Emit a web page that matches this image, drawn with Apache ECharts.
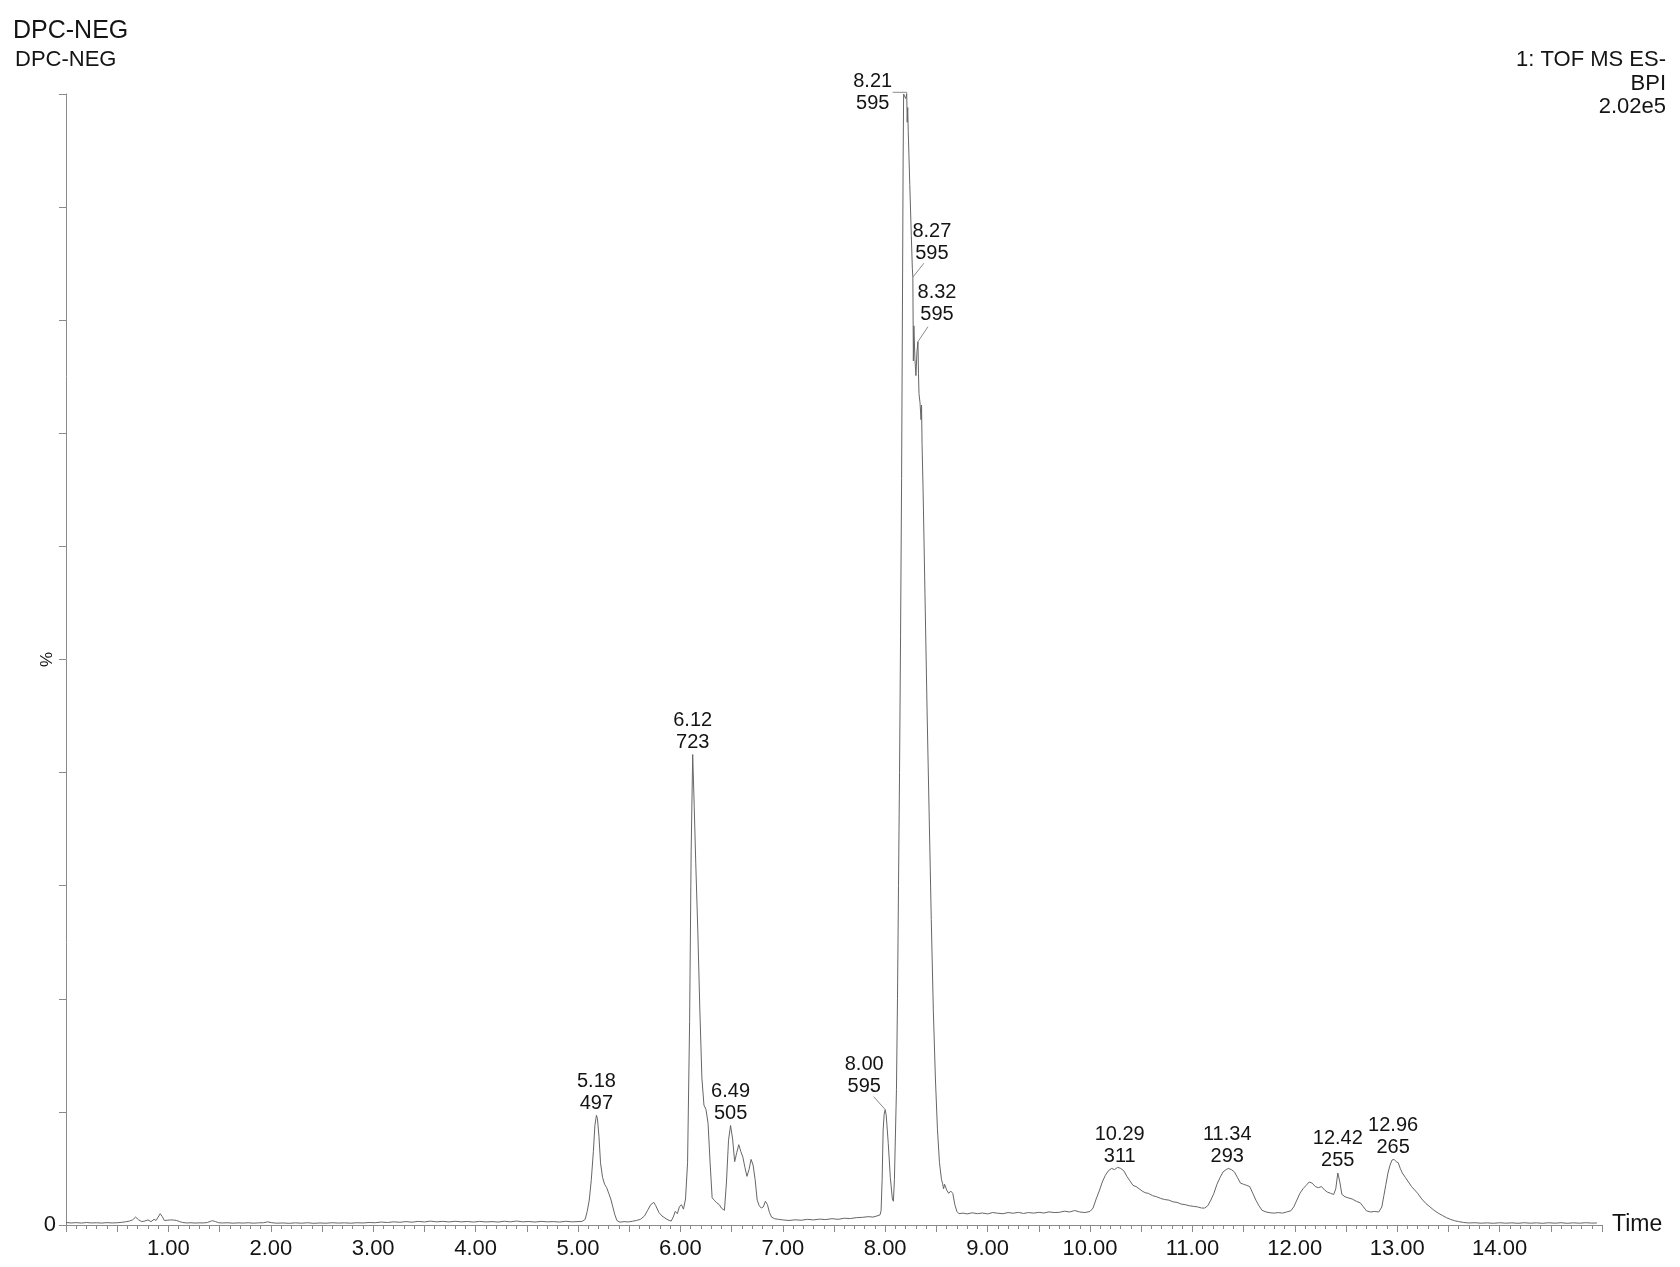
<!DOCTYPE html>
<html><head><meta charset="utf-8">
<script src="https://cdn.jsdelivr.net/npm/echarts@6/dist/echarts.min.js"></script>
<style>html,body{margin:0;padding:0;background:#fff}#chart{width:1680px;height:1267px}</style>
</head><body><div id="chart"></div>
<script>
// ---- data: base peak intensity trace, [retention time (min), relative intensity (%)]
const bpiTrace = [
[0.00,0.22],[0.05,0.18],[0.10,0.21],[0.15,0.17],[0.20,0.22],[0.25,0.18],[0.30,0.2],[0.35,0.17],[0.40,0.21],[0.45,0.18],[0.50,0.2],[0.54,0.23],[0.58,0.28],[0.62,0.35],[0.65,0.45],[0.68,0.7],[0.71,0.45],[0.74,0.3],[0.77,0.35],[0.80,0.45],[0.83,0.3],[0.86,0.5],[0.88,0.4],[0.90,0.7],[0.92,1.0],[0.94,0.75],[0.96,0.4],[0.99,0.42],[1.02,0.45],[1.05,0.44],[1.08,0.4],[1.11,0.3],[1.14,0.22],[1.18,0.18],[1.22,0.2],[1.26,0.17],[1.30,0.19],[1.34,0.18],[1.38,0.22],[1.41,0.32],[1.43,0.38],[1.46,0.3],[1.49,0.2],[1.53,0.18],[1.58,0.2],[1.63,0.16],[1.68,0.19],[1.73,0.17],[1.78,0.2],[1.83,0.16],[1.88,0.19],[1.93,0.2],[1.97,0.28],[2.01,0.2],[2.06,0.16],[2.12,0.18],[2.18,0.15],[2.24,0.19],[2.30,0.16],[2.36,0.2],[2.42,0.15],[2.48,0.18],[2.54,0.16],[2.60,0.2],[2.66,0.17],[2.72,0.19],[2.78,0.16],[2.84,0.2],[2.90,0.18],[2.96,0.22],[3.02,0.2],[3.08,0.26],[3.14,0.22],[3.20,0.28],[3.26,0.24],[3.32,0.3],[3.38,0.25],[3.44,0.32],[3.50,0.27],[3.56,0.34],[3.62,0.28],[3.68,0.32],[3.74,0.27],[3.80,0.33],[3.86,0.28],[3.92,0.31],[3.98,0.26],[4.04,0.32],[4.10,0.27],[4.16,0.3],[4.22,0.26],[4.28,0.33],[4.34,0.28],[4.40,0.35],[4.46,0.28],[4.52,0.31],[4.58,0.26],[4.64,0.32],[4.70,0.28],[4.76,0.3],[4.82,0.26],[4.88,0.33],[4.94,0.28],[5.00,0.3],[5.04,0.32],
[5.07,0.5],[5.09,1.2],[5.11,2.2],[5.13,4.0],[5.15,6.5],[5.165,8.8],[5.18,9.7],[5.19,9.4],[5.205,7.8],[5.22,5.5],[5.24,4.2],[5.26,3.6],[5.28,3.3],[5.30,2.8],[5.32,2.3],[5.34,1.6],[5.36,0.9],[5.38,0.4],[5.41,0.25],[5.45,0.3],[5.49,0.27],[5.53,0.33],[5.57,0.4],[5.61,0.5],[5.65,0.8],[5.68,1.3],[5.71,1.8],[5.74,2.0],[5.76,1.7],[5.79,1.1],[5.82,0.8],[5.86,0.55],[5.89,0.4],[5.91,0.35],[5.93,0.7],[5.95,1.2],[5.97,1.0],[5.99,1.6],[6.01,1.8],[6.03,1.4],[6.05,2.3],[6.07,5.5],[6.09,18],[6.105,33],[6.12,41.6],[6.135,37],[6.15,32],[6.17,26],[6.19,19],[6.21,13],[6.23,10.6],[6.25,10.2],[6.27,9.0],[6.29,5.5],[6.31,2.4],[6.33,2.2],[6.35,2.0],[6.38,1.8],[6.40,1.5],[6.43,1.3],[6.45,3.8],[6.47,7.5],[6.49,8.8],[6.51,7.6],[6.53,5.6],[6.55,6.4],[6.57,7.1],[6.59,6.5],[6.61,6.0],[6.63,5.1],[6.65,4.3],[6.67,4.9],[6.69,5.8],[6.71,5.3],[6.73,4.0],[6.75,2.2],[6.77,1.7],[6.79,1.5],[6.81,1.6],[6.83,2.1],[6.85,1.8],[6.87,1.1],[6.89,0.7],[6.92,0.55],[6.96,0.5],[7.00,0.45],[7.06,0.4],[7.12,0.46],[7.18,0.42],[7.24,0.5],[7.30,0.45],[7.36,0.52],[7.42,0.48],[7.48,0.56],[7.54,0.5],[7.60,0.6],[7.66,0.57],[7.72,0.65],[7.78,0.68],[7.84,0.74],[7.88,0.7],[7.92,0.8],[7.95,0.9],
[7.96,1.3],[7.97,4.0],[7.98,8.4],[7.99,9.8],[8.00,10.2],[8.01,9.7],[8.03,7.2],[8.05,4.2],[8.07,2.3],[8.08,2.1],[8.09,4],[8.11,12],[8.12,20],[8.13,30],[8.14,40],[8.15,52],[8.16,66],[8.17,84],[8.175,94],[8.18,100],[8.19,100],[8.20,99.6],[8.21,100],[8.215,97.5],[8.22,98.8],[8.225,96.7],[8.24,92],[8.255,87.5],[8.265,84.6],[8.27,83.8],[8.275,76.4],[8.28,79.5],[8.29,76.6],[8.30,75.1],[8.31,77.2],[8.32,78.1],[8.325,75.3],[8.33,73.5],[8.34,72.7],[8.35,71.2],[8.355,72.5],[8.36,69],[8.37,65],[8.39,55],[8.41,45],[8.43,36],[8.45,27],[8.47,19],[8.49,13],[8.51,8.5],[8.53,5.5],[8.55,4.0],[8.56,3.7],[8.57,3.2],[8.58,3.6],[8.60,3.1],[8.62,2.8],[8.64,3.0],[8.66,2.8],[8.68,1.8],[8.70,1.2],[8.72,1.0],
[8.76,1.05],[8.80,0.98],[8.85,1.08],[8.90,1.0],[8.95,1.06],[9.00,0.98],[9.05,1.1],[9.10,1.04],[9.15,1.0],[9.20,1.1],[9.25,1.04],[9.30,1.12],[9.35,1.02],[9.40,1.1],[9.45,1.05],[9.50,1.12],[9.55,1.06],[9.60,1.16],[9.65,1.1],[9.70,1.12],[9.75,1.22],[9.80,1.15],[9.85,1.28],[9.90,1.15],[9.95,1.1],[10.00,1.2],
[10.03,1.5],[10.06,2.3],[10.09,3.0],[10.12,3.8],[10.15,4.4],[10.18,4.8],[10.21,5.0],[10.24,4.9],[10.27,5.1],[10.30,5.0],[10.33,4.8],[10.36,4.3],[10.39,3.9],[10.42,3.5],[10.45,3.4],[10.48,3.2],[10.51,3.0],[10.54,2.85],[10.57,2.8],[10.61,2.6],[10.65,2.5],[10.69,2.35],[10.73,2.25],[10.77,2.2],[10.81,2.05],[10.85,2.0],[10.89,1.85],[10.93,1.8],[10.97,1.7],[11.01,1.65],[11.05,1.6],[11.09,1.5],[11.12,1.5],[11.15,1.7],[11.18,2.2],[11.21,2.8],[11.24,3.6],[11.27,4.2],[11.30,4.7],[11.33,4.9],[11.35,5.0],[11.38,4.9],[11.41,4.7],[11.44,4.2],[11.47,3.7],[11.50,3.6],[11.53,3.5],[11.56,3.4],[11.59,2.8],[11.62,2.2],[11.65,1.7],[11.68,1.3],[11.72,1.15],[11.76,1.08],[11.80,1.05],[11.84,1.1],[11.88,1.05],[11.92,1.15],[11.96,1.25],[11.99,1.6],[12.02,2.2],[12.05,2.8],[12.08,3.2],[12.11,3.5],[12.14,3.8],[12.17,3.7],[12.20,3.4],[12.23,3.3],[12.26,3.4],[12.29,3.1],[12.32,2.9],[12.35,2.8],[12.38,2.7],[12.40,3.2],[12.42,4.6],[12.44,3.8],[12.46,2.7],[12.49,2.5],[12.52,2.4],[12.56,2.3],[12.60,2.1],[12.64,1.95],[12.67,1.6],[12.70,1.25],[12.74,1.15],[12.78,1.2],[12.82,1.15],[12.85,1.6],[12.87,2.6],[12.89,3.6],[12.91,4.6],[12.93,5.3],[12.95,5.75],[12.97,5.8],[12.99,5.6],[13.01,5.5],[13.03,5.0],[13.05,4.6],[13.08,4.2],[13.11,3.8],[13.14,3.4],[13.17,3.1],[13.20,2.8],[13.24,2.3],[13.28,1.9],[13.32,1.6],[13.36,1.3],[13.40,1.05],[13.44,0.85],[13.48,0.65],[13.52,0.5],[13.56,0.38],[13.60,0.3],[13.65,0.22],[13.70,0.18],[13.76,0.2],[13.82,0.16],[13.88,0.19],[13.94,0.15],[14.00,0.2],[14.06,0.16],[14.12,0.19],[14.18,0.15],[14.24,0.2],[14.30,0.16],[14.36,0.19],[14.42,0.15],[14.48,0.2],[14.54,0.16],[14.60,0.2],[14.66,0.15],[14.72,0.19],[14.78,0.16],[14.84,0.2],[14.90,0.17],[14.95,0.18]
];

// ---- labelled peaks
const peakRT  = [5.18, 6.12, 6.49, 8.00, 8.21, 8.27, 8.32, 10.29, 11.34, 12.42, 12.96];
const peakMz  = [497, 723, 505, 595, 595, 595, 595, 311, 293, 255, 265];
const peakPct = [9.7, 41.6, 8.8, 10.2, 100, 83.8, 78.1, 5.0, 5.0, 4.6, 5.8];

// ---- header texts
const titleMain = 'DPC-NEG';
const titleSub = 'DPC-NEG';
const traceInfo = ['1: TOF MS ES-', 'BPI', '2.02e5'];
const xName = 'Time';
const yName = '%';

// ---- label styling (pixel offsets of the label centre from the peak, and leader polylines)
const FONT = '"Liberation Sans", Arial, sans-serif';
const defaultShift = [0, -23];
const labelShift = {3: [-21, -34], 4: [-34, -2], 5: [19, -35], 6: [19, -38.5]};
const leader = {
  3: [[-11.5, -13], [0, 0]],
  4: [[-14, -1.7], [0, -1.7], [0, 0]],
  5: [[11, -14], [0, 0]],
  6: [[10, -15], [0, 0]]
};

const chart = echarts.init(document.getElementById('chart'), null, {renderer: 'canvas'});
const axisGray = '#8a8a8a';
const textCol = '#141414';

chart.setOption({
  animation: false,
  backgroundColor: '#fff',
  grid: {left: 66, right: 78, top: 94, bottom: 42, containLabel: false},
  graphic: [
    {type: 'text', left: 13, top: 19, style: {text: titleMain, fontSize: 25, fontFamily: FONT, fill: textCol}},
    {type: 'text', left: 15, top: 49, style: {text: titleSub, fontSize: 22, fontFamily: FONT, fill: textCol}},
    {type: 'text', right: 14, top: 49, style: {text: traceInfo[0], fontSize: 22, fontFamily: FONT, fill: textCol}},
    {type: 'text', right: 14, top: 73, style: {text: traceInfo[1], fontSize: 22, fontFamily: FONT, fill: textCol}},
    {type: 'text', right: 14, top: 96, style: {text: traceInfo[2], fontSize: 22, fontFamily: FONT, fill: textCol}}
  ],
  xAxis: {
    type: 'value', min: 0, max: 15, interval: 0.5,
    name: xName, nameLocation: 'end', nameGap: 10,
    nameTextStyle: {fontSize: 23, fontFamily: FONT, color: textCol},
    axisLine: {show: true, lineStyle: {color: axisGray, width: 1}},
    axisTick: {show: true, length: 7, lineStyle: {color: axisGray}},
    minorTick: {show: true, splitNumber: 5, length: 4, lineStyle: {color: axisGray}},
    splitLine: {show: false},
    axisLabel: {
      fontSize: 22, fontFamily: FONT, color: textCol, margin: 13,
      formatter: function (v) {
        const r = Math.round(v);
        return (Math.abs(v - r) < 1e-6 && r >= 1 && r <= 14) ? r.toFixed(2) : '';
      }
    }
  },
  yAxis: {
    type: 'value', min: 0, max: 100, interval: 10,
    name: yName, nameLocation: 'middle', nameGap: 10, nameRotate: 90, nameMoveOverlap: false,
    nameTextStyle: {fontSize: 17, fontFamily: FONT, color: textCol},
    axisLine: {show: true, lineStyle: {color: axisGray, width: 1}},
    axisTick: {show: true, length: 7, lineStyle: {color: axisGray}},
    splitLine: {show: false},
    axisLabel: {
      fontSize: 22, fontFamily: FONT, color: textCol, margin: 10,
      formatter: function (v) { return v === 0 ? '0' : ''; }
    }
  },
  series: [
    {
      type: 'line', data: bpiTrace, showSymbol: false, symbol: 'none',
      lineStyle: {color: '#666666', width: 1}, silent: true, z: 2
    },
    {
      type: 'custom', z: 5, clip: false, silent: true,
      data: peakRT.map((t, i) => [t, peakPct[i]]),
      encode: {x: 0, y: 1},
      renderItem: function (params, api) {
        const i = params.dataIndex;
        const p = api.coord([api.value(0), api.value(1)]);
        const sh = labelShift[i] || defaultShift;
        const children = [{
          type: 'text',
          style: {
            text: peakRT[i].toFixed(2) + '\n' + peakMz[i],
            x: p[0] + sh[0], y: p[1] + sh[1],
            align: 'center', verticalAlign: 'middle',
            fontSize: 20, lineHeight: 22, fontFamily: FONT, fill: textCol
          }
        }];
        if (leader[i]) {
          children.push({
            type: 'polyline',
            shape: {points: leader[i].map(o => [p[0] + o[0], p[1] + o[1]])},
            style: {stroke: '#8a8a8a', lineWidth: 1, fill: null}
          });
        }
        return {type: 'group', children: children};
      }
    }
  ]
});
</script></body></html>
